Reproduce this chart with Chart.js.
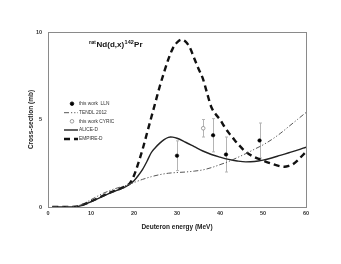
<!DOCTYPE html>
<html><head><meta charset="utf-8">
<script src="https://cdn.jsdelivr.net/npm/chart.js@4/dist/chart.umd.min.js"></script>
<style>html,body{margin:0;padding:0;background:#fff}#wrap{width:341px;height:264px}</style>
</head><body><div id="wrap"><canvas id="c" width="341" height="264"></canvas></div>
<script>
// ---- data ----
const xTicks = [0, 10, 20, 30, 40, 50, 60];
const yTicks = [0, 5, 10];

const llnE   = [30.0, 38.4, 41.4, 49.2];
const llnXS  = [2.93, 4.10, 3.00, 3.80];
const llnErr = [0.85, 0.95, 1.00, 1.00];

const cyricE   = [36.1];
const cyricXS  = [4.50];
const cyricErr = [0.50];

const tendlE  = [1, 5, 6, 7, 8, 9, 10, 11, 12, 13, 14, 15, 17, 19, 20, 22, 24, 26, 28, 30, 32, 34, 36, 38, 40, 42, 44, 46, 48, 50, 52, 54, 56, 58, 60];
const tendlXS = [0, 0, 0.02, 0.07, 0.15, 0.28, 0.42, 0.55, 0.68, 0.80, 0.90, 1.00, 1.15, 1.30, 1.40, 1.58, 1.73, 1.85, 1.93, 1.97, 2.00, 2.05, 2.12, 2.25, 2.42, 2.60, 2.82, 3.05, 3.30, 3.55, 3.85, 4.20, 4.60, 5.00, 5.40];

const aliceE  = [1, 6, 7, 8, 10, 12, 14, 16, 18, 19, 20, 21, 22, 23, 24, 25, 26, 27, 28, 28.5, 29, 30, 32, 34, 36, 38, 40, 42, 44, 46, 48, 50, 52, 54, 56, 58, 60];
const aliceXS = [0, 0, 0.03, 0.10, 0.30, 0.52, 0.75, 0.95, 1.15, 1.30, 1.50, 1.80, 2.15, 2.60, 3.10, 3.40, 3.65, 3.85, 3.98, 4.00, 3.99, 3.93, 3.70, 3.45, 3.20, 3.00, 2.85, 2.72, 2.63, 2.58, 2.60, 2.68, 2.80, 2.95, 3.10, 3.25, 3.42];

const empireE  = [1, 5, 7, 8, 10, 12, 14, 16, 18, 19, 20, 21, 22, 23, 24, 25, 26, 27, 28, 29, 30, 31, 32, 33, 34, 35, 36, 37, 38, 39, 40, 41, 42, 43, 44, 46, 48, 50, 52, 54, 55, 56, 57, 58, 59, 60];
const empireXS = [0, 0, 0.03, 0.12, 0.32, 0.55, 0.78, 0.98, 1.18, 1.35, 1.80, 2.50, 3.30, 4.20, 5.10, 6.00, 6.90, 7.70, 8.45, 9.05, 9.40, 9.56, 9.45, 9.10, 8.50, 7.90, 7.35, 6.50, 5.70, 5.30, 5.00, 4.60, 4.25, 3.95, 3.65, 3.15, 2.85, 2.65, 2.47, 2.33, 2.30, 2.35, 2.45, 2.65, 2.90, 3.15];

const legendLabels = ['this work  LLN', 'TENDL 2012', 'this work CYRIC', 'ALICE-D', 'EMPIRE-D'];

const pts = (xs, ys) => xs.map((x, i) => ({x: x, y: ys[i]}));

const FONT = '"Liberation Sans", Arial, sans-serif';

const errorBars = {
  id: 'errorBars',
  beforeDatasetsDraw(chart) {
    const {ctx, scales: {x, y}} = chart;
    ctx.save();
    ctx.strokeStyle = '#b4b4b4';
    ctx.lineWidth = 1;
    const draw = (es, vs, errs) => {
      es.forEach((e, i) => {
        const px = Math.round(x.getPixelForValue(e)) + 0.5;
        const y1 = y.getPixelForValue(vs[i] + errs[i]);
        const y2 = y.getPixelForValue(vs[i] - errs[i]);
        ctx.beginPath();
        ctx.moveTo(px, y1); ctx.lineTo(px, y2);
        ctx.moveTo(px - 1.5, y1); ctx.lineTo(px + 1.5, y1);
        ctx.moveTo(px - 1.5, y2); ctx.lineTo(px + 1.5, y2);
        ctx.stroke();
      });
    };
    draw(llnE, llnXS, llnErr);
    draw(cyricE, cyricXS, cyricErr);
    ctx.restore();
  }
};

const frame = {
  id: 'frame',
  beforeDatasetsDraw(chart) {
    const {ctx, chartArea: a} = chart;
    ctx.save();
    ctx.strokeStyle = '#8a8a8a';
    ctx.lineWidth = 1;
    ctx.strokeRect(Math.round(a.left) + 0.5, Math.round(a.top) + 0.5, Math.round(a.right - a.left), Math.round(a.bottom - a.top));
    ctx.restore();
  }
};

const overlay = {
  id: 'overlay',
  afterDraw(chart) {
    const {ctx} = chart;
    ctx.save();
    // title natNd(d,x)142Pr
    let x = 89;
    const base = 47;
    ctx.fillStyle = '#111';
    ctx.textBaseline = 'alphabetic';
    ctx.textAlign = 'left';
    const seg = (t, size, dy) => {
      ctx.font = 'bold ' + size + 'px ' + FONT;
      ctx.fillText(t, x, base + dy);
      x += ctx.measureText(t).width;
    };
    seg('nat', 4.5, -3.5);
    x += 0.8;
    seg('Nd(d,x)', 8, 0);
    x += 0.5;
    seg('142', 5.5, -3.2);
    x += 0.3;
    seg('Pr', 8, 0);

    // legend
    const rows = [103.7, 112.7, 121.3, 130, 139];
    ctx.font = '4.8px ' + FONT;
    ctx.textBaseline = 'middle';
    const ds = chart.data.datasets;
    rows.forEach((ry, i) => {
      const d = ds[i];
      ctx.fillStyle = '#333';
      if (d.showLine === false) {
        ctx.beginPath();
        ctx.arc(72, ry, d.pointRadius, 0, Math.PI * 2);
        if (d.pointBackgroundColor !== '#ffffff') { ctx.fillStyle = d.pointBackgroundColor; ctx.fill(); }
        ctx.strokeStyle = d.pointBorderColor; ctx.lineWidth = 0.8; ctx.stroke();
        ctx.fillStyle = '#333';
        ctx.fillText(d.label, 79, ry);
      } else {
        ctx.beginPath();
        ctx.setLineDash(d.borderDash || []);
        ctx.strokeStyle = d.borderColor;
        ctx.lineWidth = d.borderWidth;
        ctx.moveTo(64, ry); ctx.lineTo(78, ry);
        ctx.stroke();
        ctx.setLineDash([]);
        ctx.fillText(d.label, 79, ry);
      }
    });
    ctx.restore();
  }
};

new Chart(document.getElementById('c'), {
  type: 'scatter',
  data: {
    datasets: [
      { label: legendLabels[0], data: pts(llnE, llnXS), showLine: false, pointRadius: 1.8,
        pointBackgroundColor: '#000000', pointBorderColor: '#000000', pointBorderWidth: 0.5, order: 0 },
      { label: legendLabels[1], data: pts(tendlE, tendlXS), showLine: true, borderColor: '#555555',
        borderWidth: 1, borderDash: [5, 2, 1.2, 2, 1.2, 2], pointRadius: 0, cubicInterpolationMode: 'monotone', order: 3 },
      { label: legendLabels[2], data: pts(cyricE, cyricXS), showLine: false, pointRadius: 1.8,
        pointBackgroundColor: '#ffffff', pointBorderColor: '#888888', pointBorderWidth: 0.8, order: 1 },
      { label: legendLabels[3], data: pts(aliceE, aliceXS), showLine: true, borderColor: '#222222',
        borderWidth: 1.4, pointRadius: 0, cubicInterpolationMode: 'monotone', order: 4 },
      { label: legendLabels[4], data: pts(empireE, empireXS), showLine: true, borderColor: '#111111',
        borderWidth: 2.4, borderDash: [6, 4], pointRadius: 0, cubicInterpolationMode: 'monotone', order: 5 }
    ]
  },
  options: {
    responsive: false,
    devicePixelRatio: 1,
    animation: false,
    events: [],
    layout: { padding: { left: 0, right: 35, top: 32, bottom: 0 } },
    plugins: { legend: { display: false }, tooltip: { enabled: false } },
    scales: {
      x: {
        type: 'linear', min: 0, max: 60,
        afterBuildTicks: s => { s.ticks = xTicks.map(v => ({value: v})); },
        afterFit: s => { s.height = 57; },
        grid: { display: false, drawTicks: false },
        border: { display: true, color: '#666666', width: 1 },
        ticks: { padding: 3, color: '#333', font: { family: FONT, size: 5.5, weight: 'bold' }, maxRotation: 0 },
        title: { display: true, text: 'Deuteron energy (MeV)', color: '#222',
          font: { family: FONT, size: 6.5, weight: 'bold' }, padding: { top: 0, bottom: 33 } }
      },
      y: {
        type: 'linear', min: 0, max: 10,
        afterBuildTicks: s => { s.ticks = yTicks.map(v => ({value: v})); },
        afterFit: s => { s.width = 48; },
        grid: { display: false, drawTicks: false },
        border: { display: true, color: '#666666', width: 1 },
        ticks: { padding: 6, color: '#333', font: { family: FONT, size: 5.5, weight: 'bold' } },
        title: { display: true, text: 'Cross-section (mb)', color: '#222',
          font: { family: FONT, size: 6.5, weight: 'bold' }, padding: { top: 27, bottom: 0 } }
      }
    }
  },
  plugins: [frame, errorBars, overlay]
});
</script>
</body></html>
